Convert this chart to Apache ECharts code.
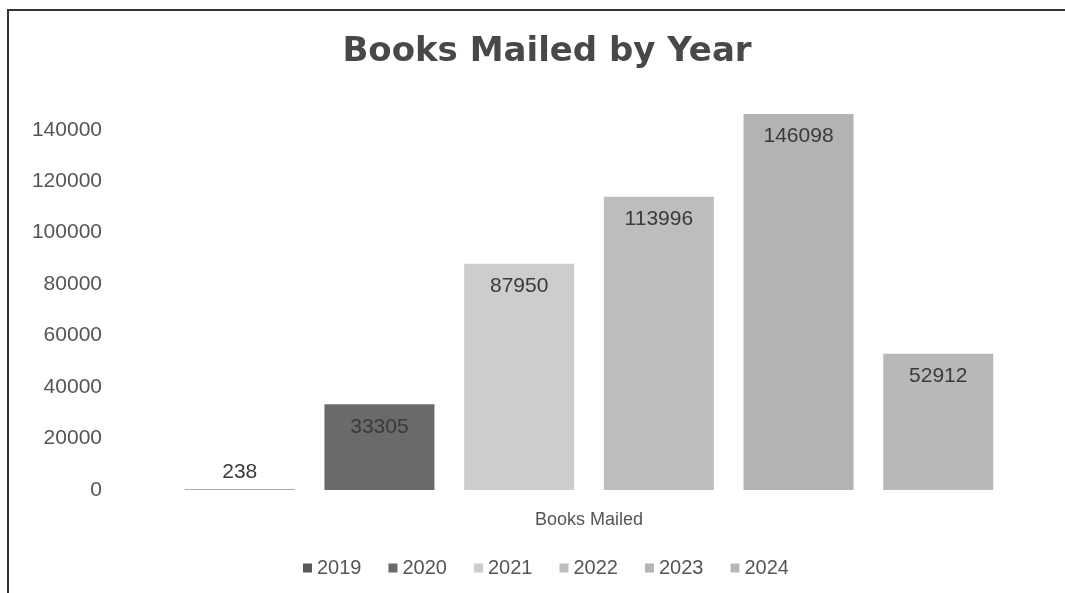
<!DOCTYPE html>
<html>
<head>
<meta charset="utf-8">
<script src="https://cdn.jsdelivr.net/npm/echarts@6/dist/echarts.min.js"></script>
<style>
  html, body { margin: 0; padding: 0; background: #fff; }
  #chart { width: 1065px; height: 593px; }
</style>
</head>
<body>
<div id="chart"></div>
<script>
// data
var categories = ['Books Mailed'];
var years = ['2019', '2020', '2021', '2022', '2023', '2024'];
var booksMailed = [238, 33305, 87950, 113996, 146098, 52912];
var yearColors = ['#585858', '#6a6a6a', '#cdcdcd', '#bdbdbd', '#b3b3b3', '#b8b8b8'];

var chart = echarts.init(document.getElementById('chart'));

var series = years.map(function (year, i) {
    var small = booksMailed[i] < 10000;
    return {
        name: year,
        type: 'bar',
        data: [booksMailed[i]],
        barWidth: 110,
        barGap: '27%',
        itemStyle: { color: yearColors[i] },
        label: {
            show: true,
            // the tiny 2019 bar gets its label above
            position: small ? 'top' : 'insideTop',
            distance: small ? 7 : 12,
            fontSize: 21,
            fontFamily: 'Liberation Sans',
            color: '#3a3a3a'
        }
    };
});

var option = {
    backgroundColor: '#fff',
    animation: false,
    title: {
        text: 'Books Mailed by Year',
        left: 542,
        textAlign: 'center',
        top: 30,
        textStyle: {
            fontSize: 34,
            fontWeight: 'bold',
            fontFamily: 'DejaVu Sans',
            color: '#484848'
        }
    },
    graphic: [{
        type: 'rect',
        shape: { x: 8, y: 10, width: 1200, height: 700 },
        style: { fill: 'none', stroke: '#333', lineWidth: 2 },
        silent: true
    }],
    legend: {
        data: years,
        top: 553,
        left: 298,
        itemWidth: 9,
        itemHeight: 9,
        itemGap: 27,
        icon: 'rect',
        textStyle: { fontSize: 20, fontFamily: 'Liberation Sans', color: '#555' }
    },
    grid: { left: 115, right: 2, top: 104, bottom: 103 },
    xAxis: {
        type: 'category',
        data: categories,
        axisLine: { show: false },
        axisTick: { show: false },
        axisLabel: { margin: 21, fontSize: 18, fontFamily: 'Liberation Sans', color: '#555' }
    },
    yAxis: {
        type: 'value',
        min: 0,
        max: 150000,
        interval: 20000,
        splitLine: { show: false },
        axisLine: { show: false },
        axisTick: { show: false },
        axisLabel: {
            showMaxLabel: false,
            margin: 13,
            fontSize: 21,
            fontFamily: 'Liberation Sans',
            color: '#555',
            formatter: function (v) { return String(v); }
        }
    },
    series: series
};

chart.setOption(option);
</script>
</body>
</html>
